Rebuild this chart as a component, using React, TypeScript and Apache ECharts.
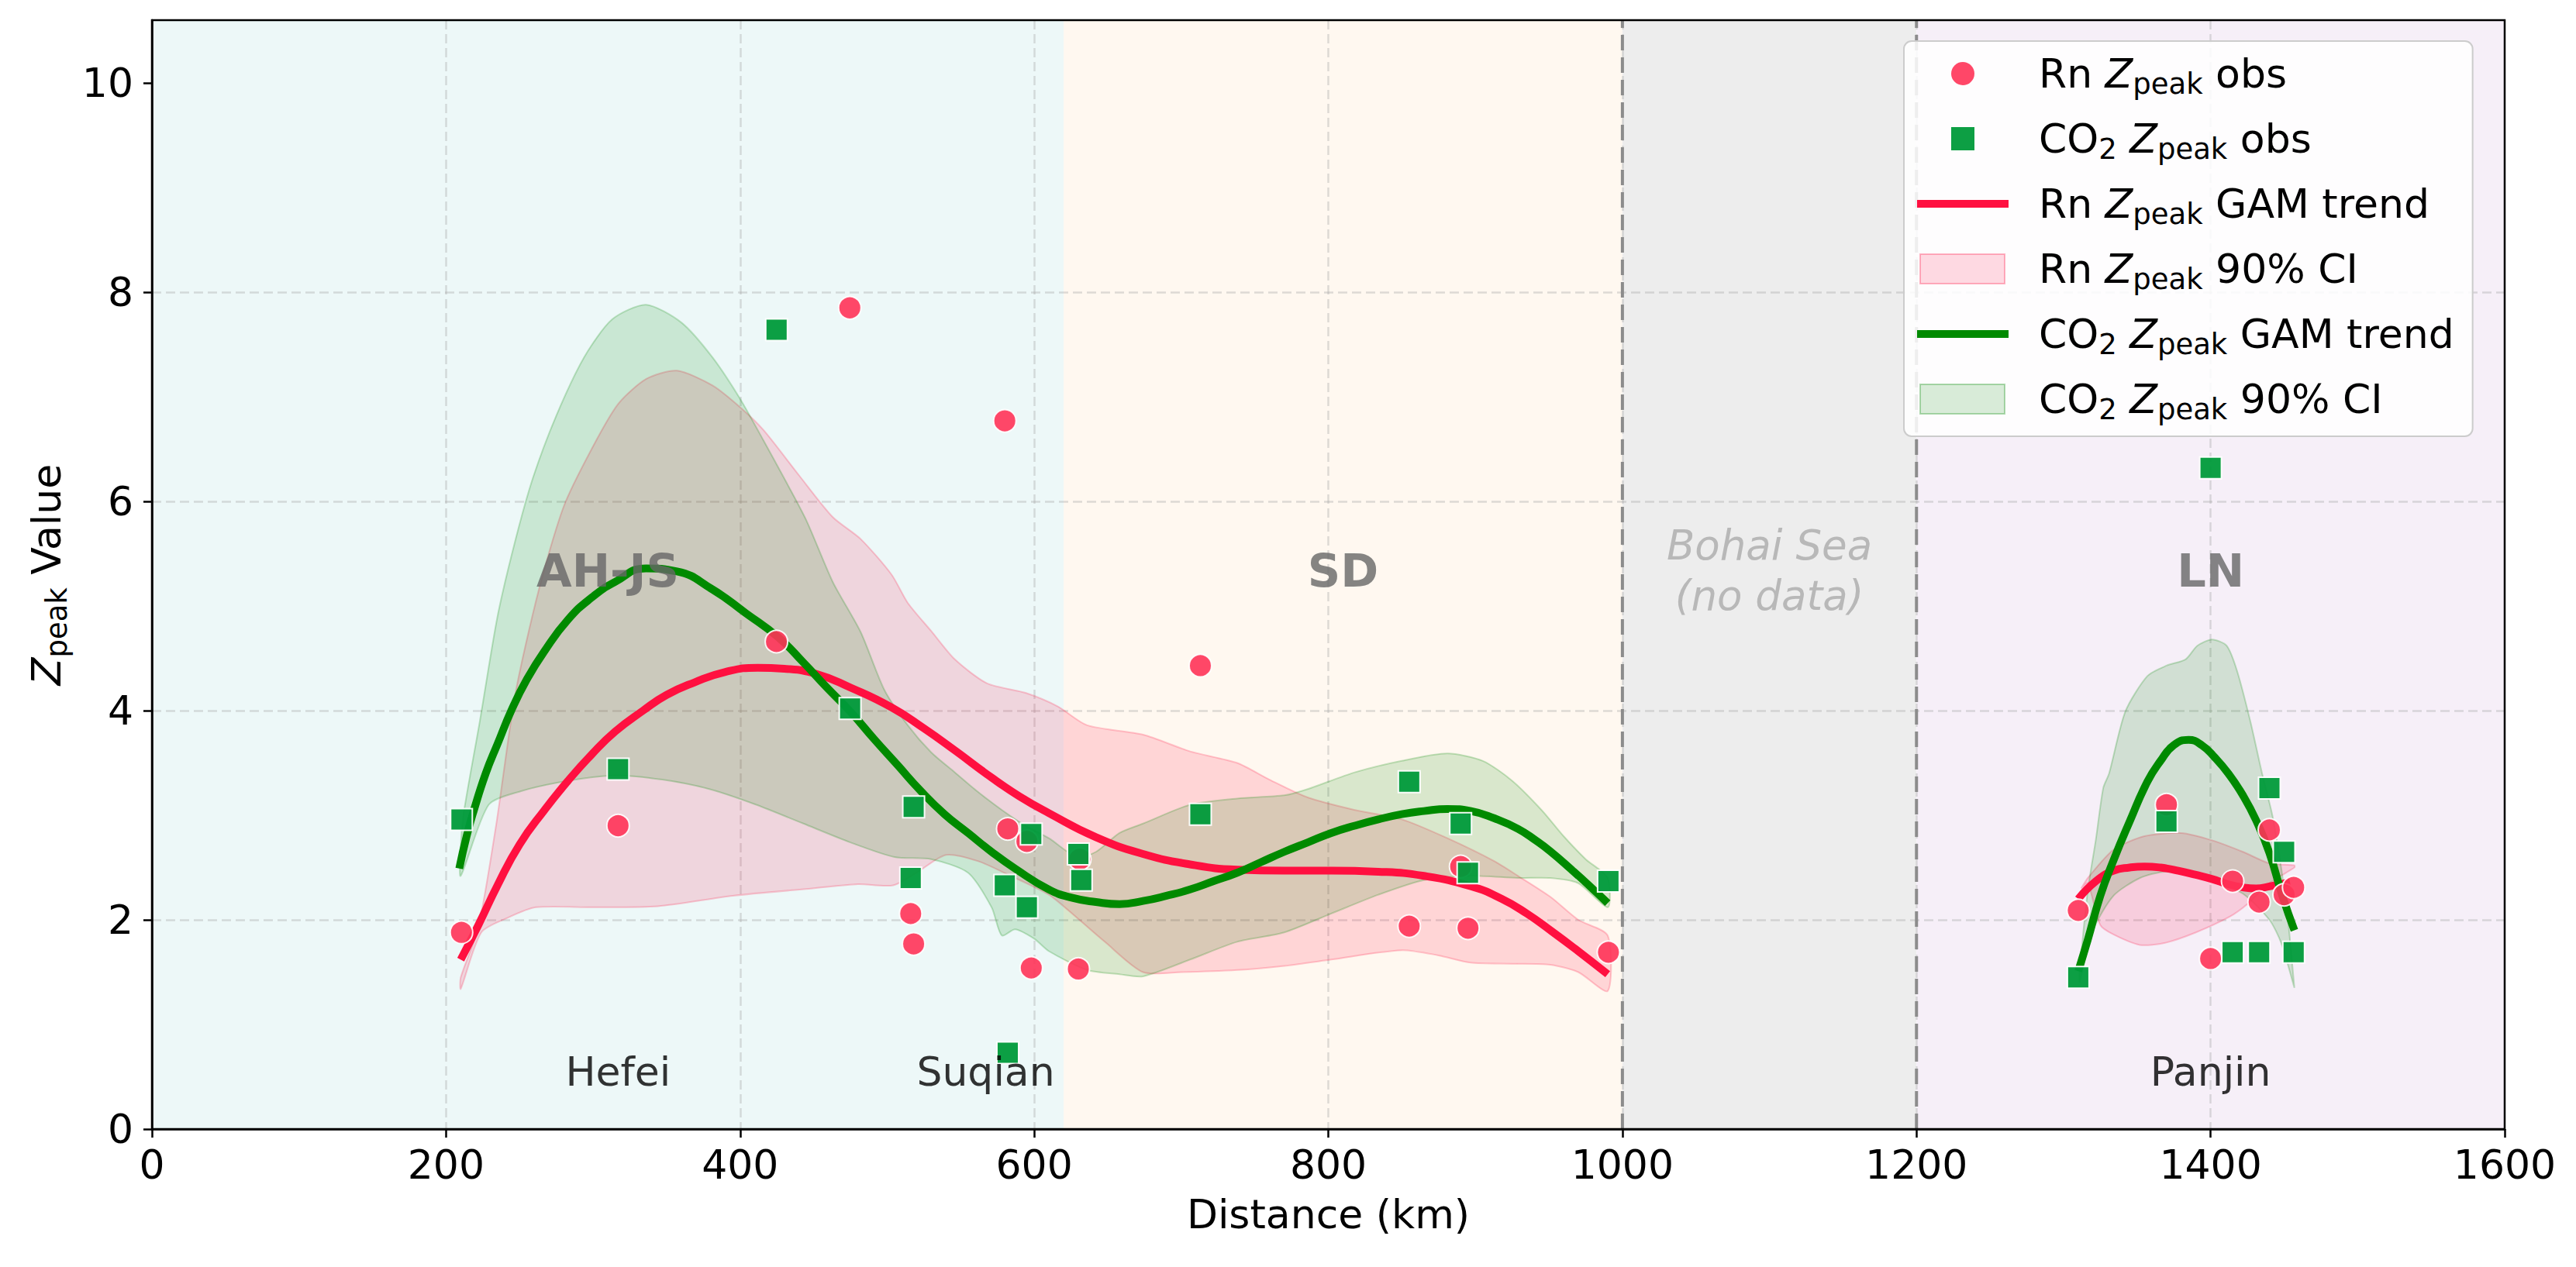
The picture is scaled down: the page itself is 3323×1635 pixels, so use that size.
import React, { useEffect, useRef } from 'react';
import * as echarts from 'echarts';

const FONT = 'DejaVu Sans';
const X_MIN = 0;
const X_MAX = 1600;
const X_STEP = 200;
const Y_MIN = 0;
const Y_MAX = 10.6;
const Y_STEP = 2;
const yTickValues = [0, 2, 4, 6, 8, 10];

// Background regions along the transect (km)
const regionSpans = [
  [0, 620],
  [620, 1000],
  [1000, 1200],
  [1200, 1600],
];
const regionColors = ['#edf8f8', '#fff8f0', '#ededed', '#f6eff8'];
const boundaryKm = [1000, 1200];

// Region + city annotations
const regionNames = ['AH-JS', 'SD', 'LN'];
const regionLabelKm = [310, 810, 1400];
const regionLabelY = 5.34;
const seaLabel = 'Bohai Sea\n(no data)';
const seaLabelKm = 1100;
const cityNames = ['Hefei', 'Suqian', 'Panjin'];
const cityKm = [317, 567, 1400];
const cityLabelY = 0.55;

// Observations [distance km, Zpeak]
const rnObs = [
  [210.5, 1.88], [317, 2.9], [424.7, 4.66], [474.6, 7.85], [516, 2.06], [518, 1.77],
  [580, 6.77], [582, 2.87], [595, 2.75], [598, 1.54], [630, 1.53], [631, 2.58],
  [713, 4.43], [855, 1.94], [890, 2.51], [895, 1.92], [990.5, 1.69],
  [1310, 2.09], [1370, 3.1], [1400, 1.63], [1415, 2.37], [1433, 2.17], [1440, 2.86],
  [1450, 2.24], [1456.5, 2.31],
];
const co2Obs = [
  [210.5, 2.96], [317, 3.44], [424.8, 7.64], [474.8, 4.02], [516, 2.4], [518, 3.08],
  [580, 2.33], [582, 0.73], [595, 2.12], [598, 2.82], [630, 2.63], [632, 2.38],
  [713, 3.01], [855, 3.32], [890, 2.92], [895, 2.45], [990.5, 2.37],
  [1310, 1.45], [1370, 2.94], [1400, 6.32], [1415, 1.69], [1433, 1.69], [1440, 3.26],
  [1450, 2.65], [1456.5, 1.69],
];

// GAM trends
const rnTrendSouth = [
  [210, 1.62], [222, 1.95], [235, 2.33], [250, 2.72], [267, 3.05], [283, 3.33], [299, 3.58],
  [315, 3.8], [334, 4.0], [350, 4.15], [369, 4.27], [390, 4.37], [412, 4.41], [430, 4.4],
  [452, 4.35], [475, 4.22], [503, 4.03], [525, 3.83], [546, 3.62], [571, 3.36], [590, 3.18],
  [610, 3.02], [642, 2.79], [674, 2.63], [706, 2.53], [738, 2.48], [770, 2.47], [802, 2.47],
  [834, 2.46], [865, 2.42], [897, 2.32], [918, 2.2], [935, 2.06], [952, 1.89], [970, 1.7],
  [990, 1.48],
];
const co2TrendSouth = [
  [209, 2.49], [214, 2.8], [219, 3.05], [227, 3.4], [235, 3.68], [245, 4.02], [255, 4.3],
  [267, 4.57], [283, 4.87], [299, 5.08], [315, 5.23], [336, 5.36], [357, 5.33], [381, 5.16],
  [404, 4.93], [426, 4.7], [443, 4.46], [459, 4.22], [475, 3.99], [491, 3.73], [507, 3.48],
  [523, 3.23], [539, 3.01], [555, 2.83], [571, 2.65], [587, 2.49], [610, 2.29], [626, 2.21],
  [642, 2.17], [658, 2.15], [674, 2.18], [690, 2.23], [706, 2.29], [722, 2.37], [738, 2.45],
  [754, 2.55], [770, 2.65], [786, 2.74], [802, 2.83], [818, 2.9], [834, 2.96], [850, 3.01],
  [865, 3.04], [881, 3.06], [897, 3.04], [913, 2.97], [929, 2.87], [941, 2.76], [951, 2.655],
  [965, 2.485], [978, 2.32], [990, 2.16],
];
const rnTrendNorth = [
  [1310, 2.2], [1322, 2.37], [1334, 2.47], [1345, 2.5], [1355, 2.51], [1366, 2.5], [1378, 2.47],
  [1390, 2.43], [1401, 2.39], [1412, 2.34], [1422, 2.31], [1431, 2.3], [1440, 2.32], [1454, 2.36],
];
const co2TrendNorth = [
  [1310, 1.51], [1316.5, 1.81], [1325, 2.23], [1334, 2.57], [1345, 2.94], [1357, 3.32],
  [1366, 3.52], [1375, 3.67], [1385, 3.72], [1394, 3.67], [1403, 3.55], [1412, 3.4],
  [1422, 3.19], [1431, 2.95], [1440, 2.64], [1449, 2.22], [1457, 1.9],
];

// 90% confidence bands
const rnCiUpperSouth = [
  [210, 1.45], [222, 1.93], [234, 2.9], [247, 4.15], [263, 5.15], [280, 5.95], [299, 6.5],
  [317, 6.93], [336, 7.17], [357, 7.25], [381, 7.11], [400, 6.9], [416, 6.68], [440, 6.25],
  [463, 5.85], [482, 5.64], [503, 5.3], [514, 5.03], [530, 4.76], [546, 4.49], [568, 4.26],
  [594, 4.17], [616, 4.04], [636, 3.86], [674, 3.77], [706, 3.61], [738, 3.5], [760, 3.34],
  [786, 3.17], [818, 3.05], [850, 2.96], [881, 2.78], [913, 2.56], [929, 2.42], [951, 2.22],
  [970, 2.0], [990, 1.85],
];
const rnCiLowerSouth = [
  [210, 1.34], [224, 1.88], [242, 2.02], [261, 2.12], [300, 2.12], [344, 2.13], [395, 2.23],
  [449, 2.3], [480, 2.34], [504, 2.33], [520, 2.45], [540, 2.62], [562, 2.56], [584, 2.42],
  [610, 2.24], [629, 2.02], [648, 1.79], [674, 1.5], [700, 1.5], [738, 1.52], [770, 1.56],
  [802, 1.62], [850, 1.71], [875, 1.66], [897, 1.59], [925, 1.58], [951, 1.57], [970, 1.5],
  [990, 1.32],
];
const co2CiUpperSouth = [
  [210, 2.7], [212, 3.02], [223, 3.9], [235, 4.9], [247, 5.62], [259, 6.22], [275, 6.82],
  [294, 7.38], [313, 7.74], [336, 7.88], [360, 7.71], [381, 7.38], [400, 6.98], [416, 6.58],
  [430, 6.22], [445, 5.82], [463, 5.23], [482, 4.75], [498, 4.2], [514, 3.86], [530, 3.6],
  [546, 3.41], [562, 3.22], [578, 3.05], [594, 2.9], [610, 2.78], [629, 2.6], [642, 2.65],
  [658, 2.83], [674, 2.92], [706, 3.1], [738, 3.16], [770, 3.19], [786, 3.25], [818, 3.41],
  [850, 3.52], [881, 3.59], [905, 3.52], [925, 3.33], [945, 3.05], [960, 2.8], [975, 2.58],
  [990, 2.4],
];
const co2CiLowerSouth = [
  [210, 2.42], [229, 3.1], [251, 3.23], [283, 3.33], [315, 3.38], [347, 3.34], [379, 3.25],
  [411, 3.1], [443, 2.92], [475, 2.74], [505, 2.6], [530, 2.58], [555, 2.45], [571, 2.12],
  [578, 1.85], [587, 1.91], [600, 1.82], [610, 1.7], [636, 1.52], [658, 1.48], [674, 1.46],
  [706, 1.62], [738, 1.79], [770, 1.88], [802, 2.06], [834, 2.24], [865, 2.38], [897, 2.42],
  [929, 2.4], [951, 2.4], [970, 2.35], [990, 2.12],
];
const rnCiUpperNorth = [
  [1312, 2.3], [1316.5, 2.4], [1334, 2.67], [1355, 2.8], [1380, 2.83], [1401, 2.76],
  [1422, 2.65], [1440, 2.54], [1457, 2.52],
];
const rnCiLowerNorth = [
  [1312, 2.3], [1316.5, 2.35], [1325, 1.95], [1334, 1.86], [1352, 1.76], [1369, 1.78],
  [1390, 1.88], [1413, 2.03], [1425, 2.15], [1440, 2.35], [1457, 2.5],
];
const co2CiUpperNorth = [
  [1311, 1.51], [1316.5, 2.28], [1322, 2.77], [1327, 3.26], [1331, 3.4], [1342, 3.99],
  [1357, 4.33], [1370, 4.43], [1383, 4.49], [1391, 4.62], [1401, 4.68], [1411, 4.62],
  [1418, 4.38], [1427, 3.9], [1435, 3.4], [1442, 3.0], [1448, 2.5], [1453, 1.95], [1457, 1.35],
];
const co2CiLowerNorth = [
  [1311, 1.41], [1320, 1.9], [1334, 2.23], [1352, 2.4], [1369, 2.46], [1387, 2.42],
  [1404, 2.35], [1422, 2.25], [1440, 2.0], [1448, 1.78], [1457, 1.35],
];

const RN_PT = '#ff3358';
const CO2_PT = '#009a3a';
const RN_LINE = '#ff1040';
const CO2_LINE = '#008a00';
const RN_FILL = 'rgba(255,16,64,0.15)';
const RN_EDGE = 'rgba(255,16,64,0.22)';
const CO2_FILL = 'rgba(0,136,0,0.15)';
const CO2_EDGE = 'rgba(0,136,0,0.22)';

const legendLabels: Record<string, string> = {
  'Rn obs': 'Rn {i|Z}{s|peak} obs',
  'CO2 obs': 'CO{s|2} {i|Z}{s|peak} obs',
  'Rn trend': 'Rn {i|Z}{s|peak} GAM trend',
  'Rn CI': 'Rn {i|Z}{s|peak} 90% CI',
  'CO2 trend': 'CO{s|2} {i|Z}{s|peak} GAM trend',
  'CO2 CI': 'CO{s|2} {i|Z}{s|peak} 90% CI',
};

// legend icon shapes (box 118 x 38)
const ICON_CIRCLE = 'path://M0,0M118,38M44,19A15,15 0 1 1 74,19A15,15 0 1 1 44,19Z';
const ICON_SQUARE = 'path://M0,0M118,38M44,4H74V34H44Z';
const ICON_LINE = 'path://M0,0M118,38M0,14H118V24H0Z';
const ICON_SWATCH = 'path://M0,0M118,38M4,0H113V38H4Z';

const FS = 52;
const richStyles = {
  i: { fontSize: FS, fontStyle: 'italic', fontFamily: FONT, color: '#000', lineHeight: 64 },
  s: { fontSize: 37, fontFamily: FONT, color: '#000', lineHeight: 36, verticalAlign: 'bottom' },
};

function bandSeries(name: string, upper: number[][], lower: number[][], fill: string, edge: string) {
  return {
    type: 'custom',
    name,
    z: 2,
    silent: true,
    itemStyle: { color: fill, borderColor: edge },
    data: [[upper[0][0], upper[0][1]]],
    renderItem: (_params: any, api: any) => {
      const pts = upper
        .map((p) => api.coord(p))
        .concat(lower.slice().reverse().map((p) => api.coord(p)));
      return {
        type: 'polygon',
        shape: { points: pts, smooth: 0.25 },
        style: { fill, stroke: edge, lineWidth: 2 },
      };
    },
  };
}

function trendSeries(name: string, data: number[][], color: string) {
  return {
    type: 'line',
    name,
    z: 3,
    data,
    smooth: 0.5,
    symbol: 'none',
    silent: true,
    lineStyle: { color, width: 10 },
    itemStyle: { color },
  };
}

const splitLineStyle = { color: 'rgba(170,170,170,0.4)', width: 2.5, type: [12, 6] };

export default function App() {
  const ref = useRef<HTMLDivElement>(null);

  useEffect(() => {
    document.body.style.margin = '0';
    if (!ref.current) return;
    const chart = echarts.init(ref.current, undefined, { renderer: 'svg' });

    const option: any = {
      animation: false,
      textStyle: { fontFamily: FONT },
      grid: {
        left: 196,
        right: 92,
        top: 26,
        bottom: 178,
        show: true,
        borderColor: '#000',
        borderWidth: 2.5,
        backgroundColor: 'transparent',
        z: 3,
      },
      xAxis: {
        type: 'value',
        min: X_MIN,
        max: X_MAX,
        interval: X_STEP,
        name: 'Distance (km)',
        nameLocation: 'middle',
        nameGap: 84,
        nameTextStyle: { fontSize: FS, fontFamily: FONT, color: '#000' },
        axisLine: { lineStyle: { color: '#000', width: 2.5 } },
        axisTick: { show: true, length: 11, lineStyle: { color: '#000', width: 2.5 } },
        axisLabel: {
          fontSize: FS,
          fontFamily: FONT,
          color: '#000',
          margin: 20,
          formatter: (v: number) => String(v),
        },
        splitLine: { show: true, showMinLine: false, showMaxLine: false, lineStyle: splitLineStyle },
      },
      yAxis: {
        type: 'value',
        min: Y_MIN,
        max: Y_MAX,
        interval: Y_STEP,
        name: '{i|Z}{s|peak} Value',
        nameLocation: 'middle',
        nameRotate: 90,
        nameGap: 104,
        nameTextStyle: { fontSize: FS, fontFamily: FONT, color: '#000', lineHeight: 64, rich: richStyles },
        axisLine: { onZero: false, lineStyle: { color: '#000', width: 2.5 } },
        axisTick: { show: true, length: 11, customValues: yTickValues, lineStyle: { color: '#000', width: 2.5 } },
        axisLabel: {
          fontSize: FS,
          fontFamily: FONT,
          color: '#000',
          margin: 24,
          customValues: yTickValues,
          formatter: (v: number) => String(v),
        },
        splitLine: { show: true, showMinLine: false, showMaxLine: false, lineStyle: splitLineStyle },
      },
      legend: {
        orient: 'vertical',
        left: 2456,
        top: 53,
        padding: [10, 24, 16, 16],
        itemWidth: 118,
        itemHeight: 38,
        itemGap: 20,
        symbolKeepAspect: true,
        backgroundColor: 'rgba(255,255,255,0.85)',
        borderColor: '#cccccc',
        borderWidth: 2,
        borderRadius: 10,
        selectedMode: false,
        z: 10,
        textStyle: {
          fontSize: FS,
          fontFamily: FONT,
          color: '#000',
          lineHeight: 64,
          padding: [0, 0, 0, 34],
          rich: richStyles,
        },
        formatter: (name: string) => legendLabels[name] || name,
        data: [
          { name: 'Rn obs', icon: ICON_CIRCLE, itemStyle: { color: RN_PT, opacity: 0.9, borderWidth: 0 } },
          { name: 'CO2 obs', icon: ICON_SQUARE, itemStyle: { color: CO2_PT, borderWidth: 0 } },
          { name: 'Rn trend', icon: ICON_LINE, itemStyle: { color: RN_LINE, borderWidth: 0 } },
          { name: 'Rn CI', icon: ICON_SWATCH, itemStyle: { color: RN_FILL, borderColor: 'rgba(255,16,64,0.3)', borderWidth: 2 } },
          { name: 'CO2 trend', icon: ICON_LINE, itemStyle: { color: CO2_LINE, borderWidth: 0 } },
          { name: 'CO2 CI', icon: ICON_SWATCH, itemStyle: { color: CO2_FILL, borderColor: 'rgba(0,136,0,0.3)', borderWidth: 2 } },
        ],
      },
      series: [
        {
          type: 'custom',
          name: 'regions',
          z: -1,
          silent: true,
          data: regionSpans.map((s, i) => [s[0], s[1], i]),
          encode: { x: [0, 1], y: 2 },
          renderItem: (_params: any, api: any) => {
            const x0 = api.value(0);
            const x1 = api.value(1);
            const idx = api.value(2);
            const p0 = api.coord([x0, Y_MAX]);
            const p1 = api.coord([x1, Y_MIN]);
            return {
              type: 'rect',
              shape: { x: p0[0], y: p0[1], width: p1[0] - p0[0], height: p1[1] - p0[1] },
              style: { fill: regionColors[idx] },
            };
          },
        },
        {
          type: 'custom',
          name: 'boundaries',
          z: 1,
          silent: true,
          data: boundaryKm.map((b) => [b, Y_MIN]),
          renderItem: (_params: any, api: any) => {
            const x = api.value(0);
            const p0 = api.coord([x, Y_MIN]);
            const p1 = api.coord([x, Y_MAX]);
            return {
              type: 'line',
              shape: { x1: p0[0], y1: p0[1], x2: p1[0], y2: p1[1] },
              style: { stroke: '#8c8c8c', lineWidth: 4, lineDash: [20, 9] },
            };
          },
        },
        bandSeries('Rn CI', rnCiUpperSouth, rnCiLowerSouth, RN_FILL, RN_EDGE),
        bandSeries('Rn CI', rnCiUpperNorth, rnCiLowerNorth, RN_FILL, RN_EDGE),
        bandSeries('CO2 CI', co2CiUpperSouth, co2CiLowerSouth, CO2_FILL, CO2_EDGE),
        bandSeries('CO2 CI', co2CiUpperNorth, co2CiLowerNorth, CO2_FILL, CO2_EDGE),
        trendSeries('Rn trend', rnTrendSouth, RN_LINE),
        trendSeries('Rn trend', rnTrendNorth, RN_LINE),
        trendSeries('CO2 trend', co2TrendSouth, CO2_LINE),
        trendSeries('CO2 trend', co2TrendNorth, CO2_LINE),
        {
          type: 'scatter',
          name: 'Rn obs',
          z: 4,
          silent: true,
          symbol: 'circle',
          symbolSize: 29,
          data: rnObs,
          itemStyle: { color: RN_PT, opacity: 0.9, borderColor: '#fff', borderWidth: 2 },
        },
        {
          type: 'scatter',
          name: 'CO2 obs',
          z: 5,
          silent: true,
          symbol: 'rect',
          symbolSize: 28,
          data: co2Obs,
          itemStyle: { color: CO2_PT, opacity: 0.95, borderColor: '#fff', borderWidth: 2 },
        },
        {
          type: 'scatter',
          name: 'regionLabels',
          z: 6,
          silent: true,
          symbolSize: 1,
          itemStyle: { color: 'transparent' },
          data: regionNames.map((n, i) => ({ name: n, value: [regionLabelKm[i], regionLabelY] })),
          label: {
            show: true,
            position: 'inside',
            formatter: '{b}',
            fontSize: 59,
            fontWeight: 'bold',
            fontFamily: FONT,
            color: '#666666',
          },
        },
        {
          type: 'scatter',
          name: 'seaLabel',
          z: 6,
          silent: true,
          symbolSize: 1,
          itemStyle: { color: 'transparent' },
          data: [{ name: seaLabel, value: [seaLabelKm, regionLabelY] }],
          label: {
            show: true,
            position: 'inside',
            formatter: '{b}',
            fontSize: 53,
            lineHeight: 65,
            fontStyle: 'italic',
            fontFamily: FONT,
            color: '#aaaaaa',
            align: 'center',
          },
        },
        {
          type: 'scatter',
          name: 'cityLabels',
          z: 6,
          silent: true,
          symbolSize: 1,
          itemStyle: { color: 'transparent' },
          data: cityNames.map((n, i) => ({ name: n, value: [cityKm[i], cityLabelY] })),
          label: {
            show: true,
            position: 'inside',
            formatter: '{b}',
            fontSize: FS,
            fontFamily: FONT,
            color: '#000',
          },
        },
      ],
    };

    chart.setOption(option);
    return () => chart.dispose();
  }, []);

  return <div ref={ref} style={{ width: 3323, height: 1635 }} />;
}
